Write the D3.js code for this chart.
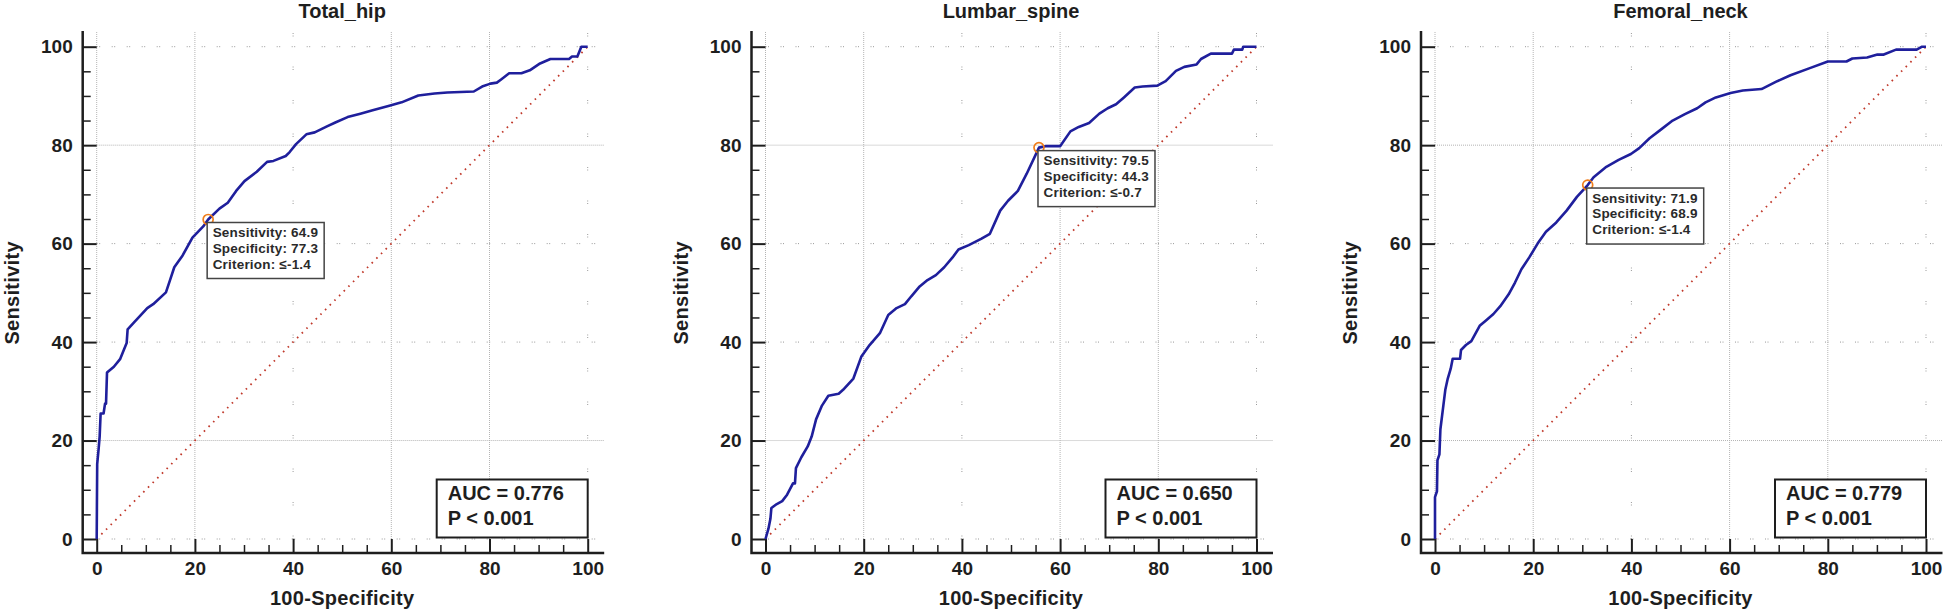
<!DOCTYPE html>
<html><head><meta charset="utf-8">
<script src="https://cdn.jsdelivr.net/npm/d3@7"></script>
<style>
body{margin:0;background:#fff}
svg{display:block}
text{font-family:"Liberation Sans",Arial,Helvetica,sans-serif}
</style>
</head><body>
<svg id="chart" width="1945" height="611"></svg>
<script>
// ---------- data ----------
const titles = ["Total_hip", "Lumbar_spine", "Femoral_neck"];

const hipFpr = [0,0.1,0.4,0.6,0.8,1.4,1.7,1.9,2.1,3.5,4.8,5.6,6.1,6.3,7.7,10.3,11.5,14.1,14.9,15.8,17.5,19.5,21.7,22.7,25.0,26.7,28.4,30.1,32.6,34.7,36.0,38.5,39.3,40.6,42.7,44.4,46.9,48.6,51.1,53.7,56.2,59.6,62.1,65.5,68.8,71.4,76.8,78.5,80.2,81.5,82.3,84.0,86.5,88.2,90.3,92.4,96.2,96.8,97.9,98.7,100];
const hipTpr = [0,15.2,18.4,20.8,25.5,25.5,27.5,27.5,33.8,35.0,36.6,38.6,39.8,42.6,44.1,46.9,47.7,50.1,52.5,55.2,57.6,61.2,63.5,64.9,67.1,68.3,70.7,72.7,74.6,76.6,76.8,77.8,78.6,80.2,82.2,82.6,83.8,84.6,85.7,86.4,87.1,88.0,88.7,90.1,90.5,90.7,90.9,91.9,92.5,92.7,93.3,94.6,94.6,95.2,96.6,97.5,97.5,98.0,98.0,100,100];

const spineFpr = [0,0.6,1.0,1.2,2.3,3.4,4.4,5.6,6.0,6.2,7.3,8.6,9.4,10.3,11.5,12.8,14.9,15.8,17.9,19.5,21.2,23.3,25.0,26.7,28.4,29.7,31.4,33.0,34.7,36.4,38.1,39.3,41.4,44.0,45.7,47.8,49.4,51.4,53.2,55.7,57.0,60.0,62.1,63.8,65.9,68.0,69.7,71.4,73.0,75.2,76.8,79.8,81.5,83.6,85.3,87.8,88.7,90.7,95.0,95.4,97.1,97.3,100];
const spineTpr = [0,2.1,4.1,6.3,7.1,7.7,9.0,11.3,11.3,14.4,16.6,18.8,20.8,24.3,27.1,29.1,29.5,30.3,32.6,37.0,39.4,41.8,45.5,46.9,47.7,49.3,51.3,52.6,53.6,55.2,57.2,58.8,59.7,61.0,62.0,66.7,68.7,70.7,74.2,79.5,79.8,79.8,82.8,83.7,84.5,86.4,87.5,88.3,89.7,91.7,91.9,92.1,93.0,95.1,95.9,96.4,97.5,98.6,98.6,99.4,99.4,100,100];

const neckFpr = [0,0,0.4,0.5,0.9,1.1,1.7,2.1,2.6,3.2,3.6,5.1,5.3,6.3,7.4,9.1,10.5,11.9,13.3,15.0,16.3,17.6,19.2,20.9,22.6,24.7,26.8,28.9,31.1,32.3,34.9,37.4,39.9,41.6,43.7,45.8,48.4,50.9,53.4,55.1,57.2,60.2,62.7,66.5,69.5,72.4,76.2,80.0,83.8,85.0,88.0,90.1,91.4,93.9,98.1,99.2,100];
const neckTpr = [0,8.5,9.7,16.0,17.2,22.3,27.1,30.3,32.6,34.6,36.6,36.6,38.4,39.4,40.2,43.3,44.5,45.7,47.3,49.7,52.1,54.8,57.2,60.0,62.4,64.3,66.7,69.5,71.9,73.5,75.6,77.0,78.2,79.4,81.4,83.0,85.0,86.3,87.5,88.7,89.7,90.6,91.1,91.4,92.9,94.2,95.6,97.0,97.0,97.6,97.8,98.4,98.4,99.4,99.4,100,100];

const fprSeries = [hipFpr, spineFpr, neckFpr];
const tprSeries = [hipTpr, spineTpr, neckTpr];

const cutSens = [64.9, 79.5, 71.9];
const cutSpec = [77.3, 44.3, 68.9];
const cutCrit = ["\u2264-1.4", "\u2264-0.7", "\u2264-1.4"];
const aucLabels = ["AUC = 0.776", "AUC = 0.650", "AUC = 0.779"];
const pLabels = ["P < 0.001", "P < 0.001", "P < 0.001"];

const majorTicks = [0, 20, 40, 60, 80, 100];
const minorTicks = [5,10,15,25,30,35,45,50,55,65,70,75,85,90,95];
const xLabel = "100-Specificity";
const yLabel = "Sensitivity";

// ---------- layout ----------
const panelLeft = [96.7, 765.5, 1435];
const plotW = 491, yTopPx = 46.7, yBotPx = 539;
const axisGap = 14, axisBottomY = 553, axisTopY = 31, axisOver = 16.5;

const svg = d3.select("#chart");
const ink = "#1e1e1e";

titles.forEach((title, i) => {
  const x0 = panelLeft[i];
  const x = d3.scaleLinear().domain([0, 100]).range([x0, x0 + plotW]);
  const y = d3.scaleLinear().domain([0, 100]).range([yBotPx, yTopPx]);
  const axL = x0 - axisGap, axR = x(100) + axisOver;
  const g = svg.append("g");

  // grid
  const denseY = new Set([20, 80]);
  const denseX = new Set([0, 20, 60, 80]);
  majorTicks.forEach(v => {
    g.append("line")
      .attr("x1", x(0)).attr("x2", axR).attr("y1", y(v)).attr("y2", y(v))
      .attr("stroke", denseY.has(v) ? "#b4b4b4" : "#9a9a9a").attr("stroke-width", 1)
      .attr("stroke-dasharray", denseY.has(v) ? "1,1" : "1,1.5,1,11.5");
    g.append("line")
      .attr("x1", x(v)).attr("x2", x(v)).attr("y1", y(0)).attr("y2", axisTopY)
      .attr("stroke", denseX.has(v) ? "#b4b4b4" : "#9a9a9a").attr("stroke-width", 1)
      .attr("stroke-dasharray", denseX.has(v) ? "1,1" : "1,1.5,1,30");
  });

  // diagonal reference
  g.append("line")
    .attr("x1", x(0)).attr("y1", y(0)).attr("x2", x(100)).attr("y2", y(100))
    .attr("stroke", "#c0392b").attr("stroke-width", 1.8)
    .attr("stroke-dasharray", "1.6,5");

  // axes
  const xa = g.append("g").attr("transform", `translate(0,${axisBottomY})`)
    .call(d3.axisBottom(x).tickValues(majorTicks).tickSize(-axisGap).tickPadding(9).tickFormat(d3.format("d")));
  const xm = g.append("g").attr("transform", `translate(0,${axisBottomY})`)
    .call(d3.axisBottom(x).tickValues(minorTicks).tickSize(-8).tickFormat(""));
  const ya = g.append("g").attr("transform", `translate(${axL},0)`)
    .call(d3.axisLeft(y).tickValues(majorTicks).tickSize(-axisGap).tickPadding(10).tickFormat(d3.format("d")));
  const ym = g.append("g").attr("transform", `translate(${axL},0)`)
    .call(d3.axisLeft(y).tickValues(minorTicks).tickSize(-8).tickFormat(""));
  [xa, xm, ya, ym].forEach(a => {
    a.select(".domain").remove();
    a.selectAll(".tick line").attr("stroke", ink).attr("stroke-width", 2);
    a.selectAll(".tick text").attr("fill", ink)
      .style("font-family", '"Liberation Sans",Arial,sans-serif')
      .style("font-size", "19px").style("font-weight", "bold");
  });
  [xm, ym].forEach(a => a.selectAll(".tick line").attr("stroke-width", 1.5));

  g.append("path")
    .attr("d", `M${axL},${axisTopY}V${axisBottomY}H${axR}`)
    .attr("fill", "none").attr("stroke", ink).attr("stroke-width", 2.5);

  // ROC curve
  const pts = fprSeries[i].map((f, k) => [f, tprSeries[i][k]]);
  g.append("path").datum(pts)
    .attr("d", d3.line().x(d => x(d[0])).y(d => y(d[1])))
    .attr("fill", "none").attr("stroke", "#1f1f9c").attr("stroke-width", 2.6)
    .attr("stroke-linejoin", "round");

  // cutoff marker
  const mx = x(100 - cutSpec[i]), my = y(cutSens[i]);
  g.append("circle").attr("cx", mx).attr("cy", my).attr("r", 5)
    .attr("fill", "none").attr("stroke", "#f07d1a").attr("stroke-width", 1.7);

  // cutoff annotation box
  const bx = mx - 1, by = my + 3, bw = 117, bh = 56;
  g.append("rect").attr("x", bx).attr("y", by).attr("width", bw).attr("height", bh)
    .attr("fill", "#fff").attr("stroke", "#444").attr("stroke-width", 1.5);
  const ann = [`Sensitivity: ${cutSens[i].toFixed(1)}`, `Specificity: ${cutSpec[i].toFixed(1)}`, `Criterion: ${cutCrit[i]}`];
  ann.forEach((t, k) => {
    g.append("text").attr("x", bx + 5.5).attr("y", by + 14.5 + k * 15.8)
      .attr("fill", "#2a2a2a").style("font-size", "13.5px").style("font-weight", "bold")
      .style("letter-spacing", "0.2px")
      .text(t);
  });

  // AUC box
  const aw = 151, ah = 58;
  const ax = x(100) - aw, ay = y(0) - 1.5 - ah;
  g.append("rect").attr("x", ax).attr("y", ay).attr("width", aw).attr("height", ah)
    .attr("fill", "#fff").attr("stroke", ink).attr("stroke-width", 2);
  g.append("text").attr("x", ax + 11).attr("y", ay + 20.5).attr("fill", ink)
    .style("font-size", "20px").style("font-weight", "bold").text(aucLabels[i]);
  g.append("text").attr("x", ax + 11).attr("y", ay + 45.5).attr("fill", ink)
    .style("font-size", "20px").style("font-weight", "bold").text(pLabels[i]);

  // titles and axis labels
  g.append("text").attr("x", x(50)).attr("y", 17.5).attr("text-anchor", "middle")
    .attr("fill", ink).style("font-size", "20px").style("font-weight", "bold").text(title);
  g.append("text").attr("x", x(50)).attr("y", 605).attr("text-anchor", "middle")
    .attr("fill", ink).style("font-size", "20px").style("font-weight", "bold")
    .style("letter-spacing", "0.3px").text(xLabel);
  g.append("text")
    .attr("transform", `translate(${axL - 64},${(yTopPx + yBotPx) / 2}) rotate(-90)`)
    .attr("text-anchor", "middle").attr("fill", ink)
    .style("font-size", "20px").style("font-weight", "bold").style("letter-spacing", "0.3px")
    .text(yLabel);
});
</script>
</body></html>
